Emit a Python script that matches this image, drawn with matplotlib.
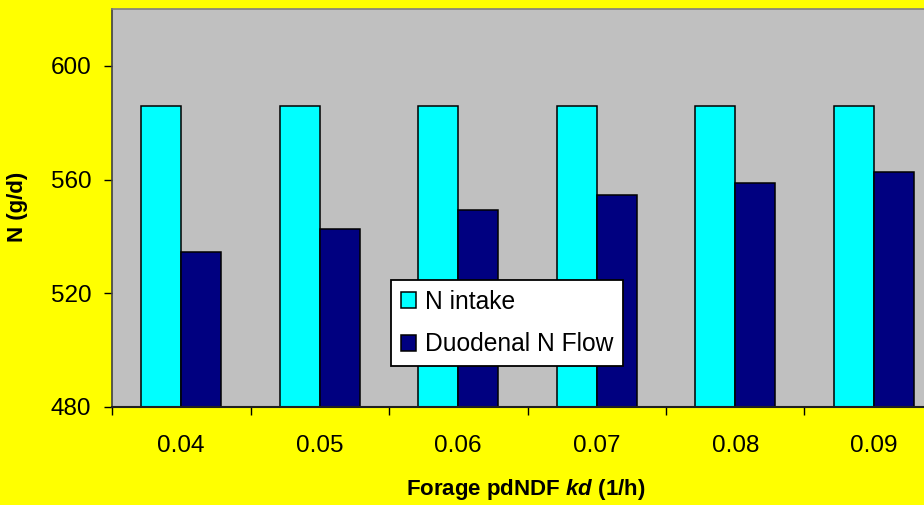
import matplotlib
matplotlib.use("Agg")
import matplotlib.pyplot as plt
from matplotlib.patches import Patch

plt.rcParams["font.family"] = ["Liberation Sans", "DejaVu Sans"]
plt.rcParams["mathtext.fontset"] = "custom"
plt.rcParams["mathtext.bfit"] = "Liberation Sans:italic:bold"

categories = ["0.04", "0.05", "0.06", "0.07", "0.08", "0.09"]
n_intake = [585.8, 585.8, 585.8, 585.8, 585.8, 585.8]
duodenal_flow = [534.4, 542.6, 549.3, 554.7, 558.9, 562.7]

W, H = 924, 505
fig = plt.figure(figsize=(W / 100, H / 100), dpi=100, facecolor="#FFFF00")
# plot area runs past the right edge of the image, as in the original
ax = fig.add_axes([112 / W, (H - 407) / H, (943 - 112) / W, (407 - 9) / H])
ax.set_facecolor("#C0C0C0")

x = list(range(len(categories)))
bw = 0.29
ax.bar([i - bw / 2 for i in x], n_intake, bw, color="#00FFFF",
       edgecolor="black", linewidth=1.1, label="N intake", zorder=2)
ax.bar([i + bw / 2 for i in x], duodenal_flow, bw, color="#000080",
       edgecolor="black", linewidth=1.1, label="Duodenal N Flow", zorder=2)

ax.set_xlim(-0.5, len(categories) - 0.5)
ax.set_ylim(480, 620)
ax.set_yticks([480, 520, 560, 600])
ax.set_xticks(x)
ax.set_xticklabels(categories)
ax.tick_params(axis="x", which="major", length=0, pad=20, labelsize=17.5)
ax.set_xticks([i - 0.5 for i in range(len(categories) + 1)], minor=True)
ax.tick_params(axis="x", which="minor", length=6, width=1, direction="out")
ax.tick_params(axis="y", length=6, width=1, direction="out", pad=9, labelsize=17.5)

for side in ["top", "right"]:
    ax.spines[side].set_color("#808080")
    ax.spines[side].set_linewidth(1.2)
ax.spines["left"].set_color("#404040")
ax.spines["bottom"].set_color("#202020")
ax.spines["left"].set_linewidth(1.2)
ax.spines["bottom"].set_linewidth(1.5)

fig.text(526 / W, 1 - 490 / H, "Forage pdNDF $\\mathbfit{kd}$ (1/h)", ha="center",
         va="center", fontsize=16, fontweight="bold")
fig.text(18 / W, 1 - 207 / H, "N (g/d)", ha="center", va="center",
         rotation=90, fontsize=16, fontweight="bold")

handles = [Patch(facecolor="#00FFFF", edgecolor="black", linewidth=1.1),
           Patch(facecolor="#000080", edgecolor="black", linewidth=1.1)]
leg = ax.legend(handles, ["N intake", "Duodenal N Flow"], loc="upper left",
                bbox_to_anchor=(391 / W, 1 - 280 / H),
                bbox_transform=fig.transFigure, fontsize=17.7, frameon=True,
                fancybox=False, framealpha=1, edgecolor="black",
                handlelength=0.62, handleheight=0.62, handletextpad=0.35,
                labelspacing=0.75, borderpad=0.4, borderaxespad=0)
leg.get_frame().set_linewidth(1.3)

fig.savefig("out.png", dpi=100, facecolor=fig.get_facecolor())
